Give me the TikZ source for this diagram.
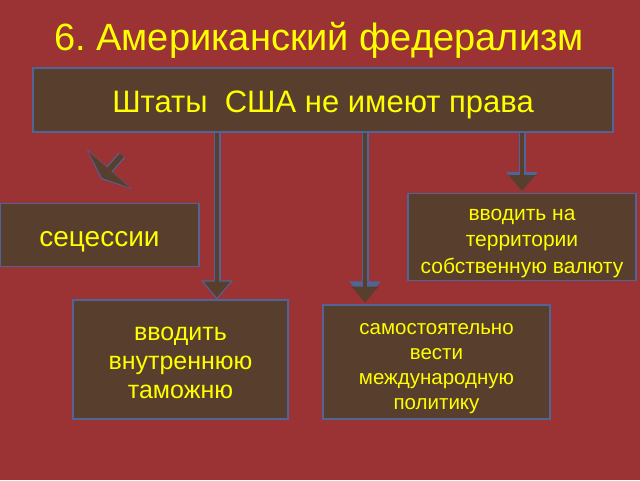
\documentclass[tikz,border=0pt]{standalone}
\usepackage{fontspec}
\setmainfont{Liberation Sans}
\usepackage{xcolor}
\usetikzlibrary{positioning, arrows.meta}
\frenchspacing

\definecolor{bgred}{RGB}{155,50,52}
\definecolor{marble}{RGB}{88,62,45}
\definecolor{edgeblue}{RGB}{80,100,152}
\definecolor{txtyellow}{RGB}{255,255,0}

\newcommand{\lift}[1]{\rule{0pt}{#1}}

\tikzset{
  pane/.style={draw=edgeblue, line width=1.3pt, fill=marble, text=txtyellow,
    align=center, inner sep=0pt},
  link/.style={draw=edgeblue, line width=7pt,
    -{Triangle[length=19pt,width=32pt,line width=0pt]},
    postaction={draw=marble, line width=4.5pt, shorten >=1.8pt,
      -{Triangle[length=16pt,width=27pt,line width=0pt]}}},
  skew/.style={draw=edgeblue, line width=8pt,
    -{Triangle[length=13pt,width=60pt,line width=0pt]},
    postaction={draw=marble, line width=5.5pt, shorten >=1.5pt,
      -{Triangle[length=11pt,width=55pt,line width=0pt]}}}
}

\begin{document}
\begin{tikzpicture}[x=1pt, y=-1pt]
          \fill[bgred] (0,0) rectangle (640,480);
          \useasboundingbox (0,0) rectangle (640,480);

          \node[text=txtyellow, font=\fontsize{38}{44}\selectfont] (title) at (319,40) {6. Американский федерализм};

          \node[pane, minimum width=580pt, minimum height=64pt, font=\fontsize{31}{37}\selectfont] (usa) at (323,100) {\lift{1em}Штаты\ \ США не имеют права};

          \node[pane, minimum width=199pt, minimum height=63pt, font=\fontsize{28}{33}\selectfont] (secess) at (99.5,235) {\lift{1em}сецессии};
          \node[pane, minimum width=228pt, minimum height=87pt, font=\fontsize{21}{26.5}\selectfont] (currency) at (522,237) {\lift{24pt}вводить на\\территории\\собственную валюту};
          \node[pane, minimum width=215pt, minimum height=119pt, font=\fontsize{25}{29}\selectfont] (customs) at (180.5,359.5) {\lift{21pt}вводить\\внутреннюю\\таможню};
          \node[pane, minimum width=227pt, minimum height=114pt, font=\fontsize{20.5}{25}\selectfont] (policy) at (436.5,362) {\lift{24pt}самостоятельно\\вести\\международную\\политику};

          % arrows from the top box
          \coordinate (c1) at (217,0);
          \coordinate (c2) at (365,0);
          \coordinate (c3) at (522,0);
          \draw[link] (usa.south -| c1) -- (customs.north -| c1);
          \draw[link, shorten >=4pt] (usa.south -| c2) -- (policy.north -| c2);
          \draw[link, shorten >=2pt] (usa.south -| c3) -- (currency.north -| c3);

          % the short one towards secession
          \coordinate (s0) at (122,155);
          \coordinate (s1) at (101,179);
          \draw[skew] (s0) -- (s1);
        \end{tikzpicture}
\end{document}
